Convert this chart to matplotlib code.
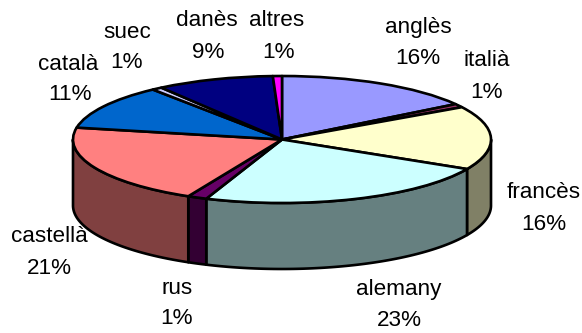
import numpy as np
import matplotlib
matplotlib.use("Agg")
import matplotlib.pyplot as plt
from matplotlib.patches import Polygon

# data
categories = ["anglès", "italià", "francès", "alemany", "rus", "castellà", "català", "suec", "danès", "altres"]
values = [15.6, 0.9, 16.2, 23.2, 1.5, 20.6, 11.4, 0.8, 9.1, 0.7]
pct_labels = ["16%", "1%", "16%", "23%", "1%", "21%", "11%", "1%", "9%", "1%"]
top_colors = ["#9999FF", "#993366", "#FFFFCC", "#CCFFFF", "#660066", "#FF8080", "#0066CC", "#CCCCFF", "#000080", "#FF00FF"]

# label placement (pixel centres of name line, percent line)
name_pos = [(418, 27), (487, 61), (544, 192), (399, 289), (177, 288), (49, 237), (68, 64), (127, 33), (207, 21), (277, 20)]
pct_pos = [(418, 58), (487, 93), (544, 224), (399, 320), (177, 319), (49, 268), (70, 95), (127, 63), (208, 53), (278, 52)]

W, H = 582, 333
CX, CY, RX, RY, DEPTH = 282, 139.5, 209, 63.5, 66

fig = plt.figure(figsize=(W / 100, H / 100), dpi=100, facecolor="white")
ax = fig.add_axes([0, 0, 1, 1])
lw = 1.9

ax.pie(values, colors=top_colors, startangle=90, counterclock=False, radius=1,
       wedgeprops=dict(edgecolor="black", linewidth=lw, joinstyle="round", zorder=3))
ax.set_aspect("auto")
ax.set_xlim(-CX / RX, (W - CX) / RX)
ax.set_ylim((CY - H) / RY, CY / RY)
ax.axis("off")

# side walls: front half of the rim, built from the slice angles
d = DEPTH / RY
edges = np.concatenate([[0], np.cumsum(values)]) / np.sum(values) * 2 * np.pi
for i, col in enumerate(top_colors):
    t1, t2 = max(edges[i], np.pi / 2), min(edges[i + 1], 3 * np.pi / 2)
    if t2 <= t1:
        continue
    t = np.linspace(t1, t2, 80)
    x, y = np.sin(t), np.cos(t)
    verts = np.column_stack([np.r_[x, x[::-1]], np.r_[y, y[::-1] - d]])
    rgb = np.array(matplotlib.colors.to_rgb(col)) * 0.5
    ax.add_patch(Polygon(verts, closed=True, facecolor=rgb, edgecolor="black",
                         linewidth=lw, joinstyle="round", zorder=1))

font = dict(family="Liberation Sans", fontsize=16.2, color="black", ha="center", va="center")
for name, pct, np_, pp in zip(categories, pct_labels, name_pos, pct_pos):
    fig.text(np_[0] / W, 1 - np_[1] / H, name, **font)
    fig.text(pp[0] / W, 1 - pp[1] / H, pct, **font)

fig.savefig("out.png", dpi=100)
